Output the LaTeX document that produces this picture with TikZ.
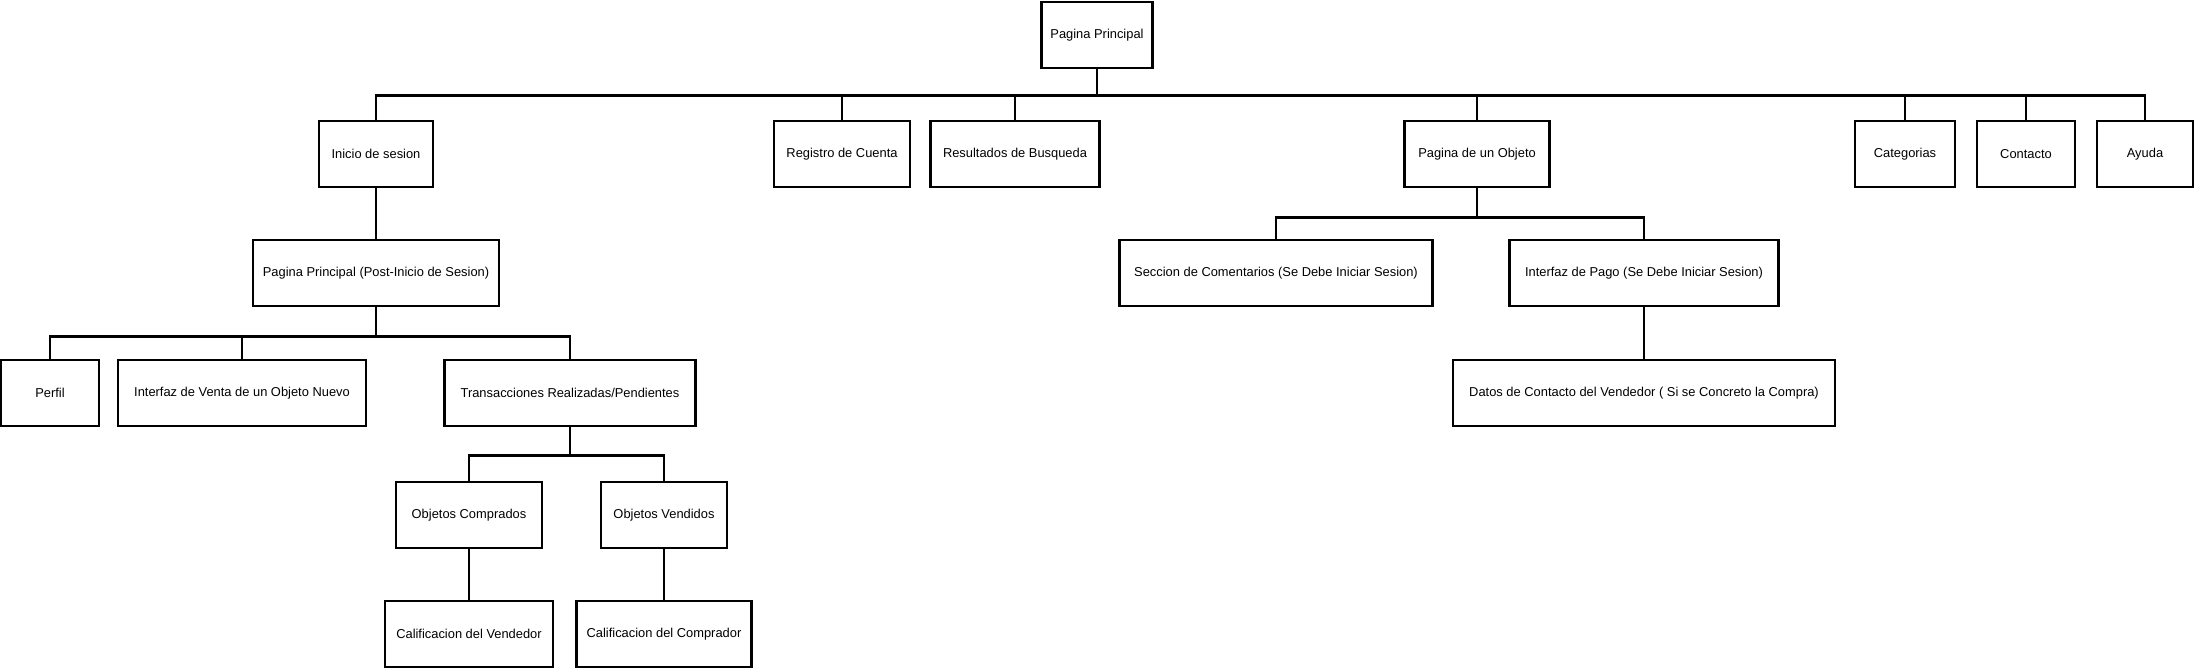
\documentclass[tikz,border=0pt]{standalone}
\usepackage{fontspec}
\setmainfont{Liberation Sans}
\begin{document}
\begin{tikzpicture}[x=0.03cm,y=-0.03cm,
  caja/.style={draw,line width=2.2pt,fill=white,inner sep=0pt,
    minimum width=#1*0.03cm,minimum height=1.99cm,
    font=\fontsize{11}{13}\selectfont},
  linea/.style={line width=2pt}]
\useasboundingbox (0,0) rectangle (2196,670);
% nivel 0
\node[caja=111] (raiz) at (1097,35) {Pagina Principal};
% nivel 1
\node[caja=114] (inicio) at (376,154) {Inicio de sesion};
\node[caja=136] (registro) at (842,154) {Registro de Cuenta};
\node[caja=169] (resultados) at (1015,154) {Resultados de Busqueda};
\node[caja=145] (objeto) at (1477,154) {Pagina de un Objeto};
\node[caja=100] (categorias) at (1905,154) {Categorias};
\node[caja=98] (contacto) at (2026,154) {Contacto};
\node[caja=96] (ayuda) at (2145,154) {Ayuda};
% nivel 2
\node[caja=246] (postinicio) at (376,273) {Pagina Principal (Post-Inicio de Sesion)};
\node[caja=313] (comentarios) at (1276,273) {Seccion de Comentarios (Se Debe Iniciar Sesion)};
\node[caja=269] (pago) at (1644,273) {Interfaz de Pago (Se Debe Iniciar Sesion)};
% nivel 3
\node[caja=98] (perfil) at (50,393) {Perfil};
\node[caja=248] (venta) at (242,393) {Interfaz de Venta de un Objeto Nuevo};
\node[caja=251] (transacciones) at (570,393) {Transacciones Realizadas/Pendientes};
\node[caja=382] (datos) at (1644,393) {Datos de Contacto del Vendedor ( Si se Concreto la Compra)};
% nivel 4
\node[caja=146] (comprados) at (469,515) {Objetos Comprados};
\node[caja=126] (vendidos) at (664,515) {Objetos Vendidos};
% nivel 5
\node[caja=168] (calvendedor) at (469,634) {Calificacion del Vendedor};
\node[caja=175] (calcomprador) at (664,634) {Calificacion del Comprador};
% conexiones
\foreach \hijo in {inicio,registro,resultados,objeto,categorias,contacto,ayuda}
  \draw[linea] (raiz.south) -- ++(0,26) -| (\hijo.north);
\draw[linea] (inicio.south) -- (postinicio.north);
\foreach \hijo in {comentarios,pago}
  \draw[linea] (objeto.south) -- ++(0,29) -| (\hijo.north);
\foreach \hijo in {perfil,venta,transacciones}
  \draw[linea] (postinicio.south) -- ++(0,29) -| (\hijo.north);
\draw[linea] (pago.south) -- (datos.north);
\foreach \hijo in {comprados,vendidos}
  \draw[linea] (transacciones.south) -- ++(0,28) -| (\hijo.north);
\draw[linea] (comprados.south) -- (calvendedor.north);
\draw[linea] (vendidos.south) -- (calcomprador.north);
\end{tikzpicture}
\end{document}
